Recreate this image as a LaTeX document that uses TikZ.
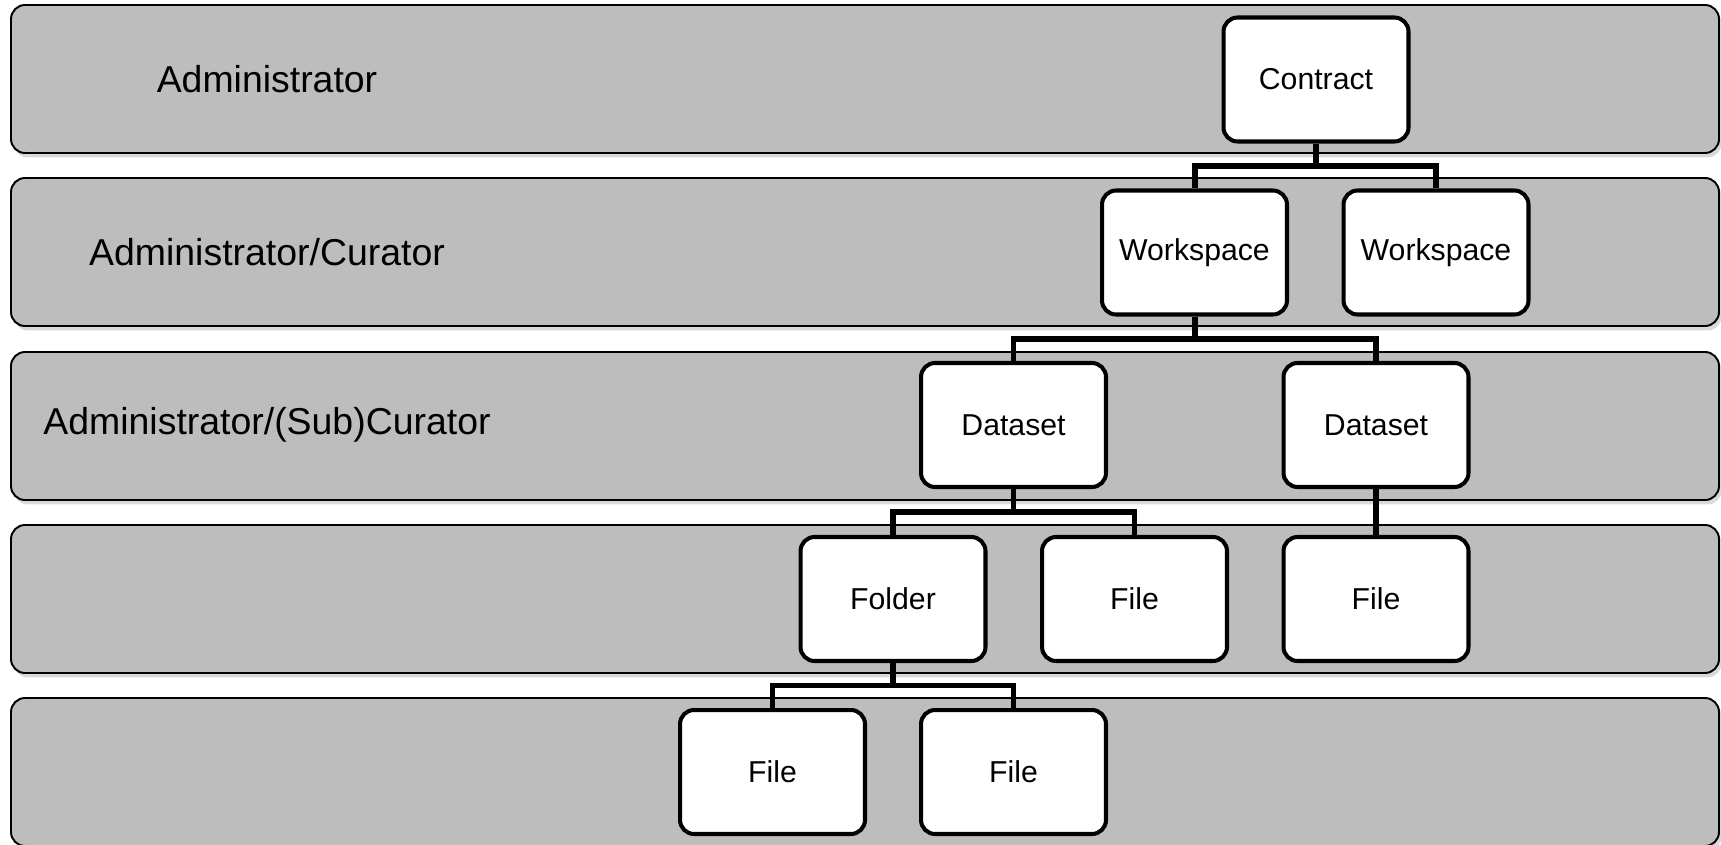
\documentclass[tikz,border=0pt]{standalone}
\usepackage{fontspec}
\setmainfont{Liberation Sans}
\usepackage{tikz}
\usetikzlibrary{positioning,calc,shadows}
\definecolor{bandgray}{HTML}{BDBDBD}
\tikzset{
  band/.style={draw=black,fill=bandgray,line width=1.1pt,rounded corners=8pt,
               drop shadow={shadow xshift=1.5pt,shadow yshift=-2.5pt,opacity=0.3}},
  item/.style={draw=black,fill=white,line width=2.3pt,rounded corners=8pt,
               minimum width=3.70cm,minimum height=2.48cm,align=center,
               font=\fontsize{17.2}{21}\selectfont},
  role/.style={font=\fontsize{21.3}{25}\selectfont},
  link/.style={line width=3.4pt,draw=black}
}

\begin{document}
\begin{tikzpicture}[x=0.02cm,y=-0.02cm]
    \path[use as bounding box] (0,0) rectangle (1721,845);

    % role bands
    \foreach \t in {5,178,352,525,698}
      \draw[band] (11,\t) rectangle (1719,\t+148);

    \node[role] (r1) at (267,79.5) {Administrator};
    \node[role] (r2) at (267,252.5) {Administrator/Curator};
    \node[role] (r3) at (267,425) {Administrator/(Sub)Curator};

    % hierarchy
    \node[item] (con) at (1316,79.5) {Contract};
    \node[item] (ws1) at (1194.5,252.5) {Workspace};
    \node[item] (ws2) at (1436,252.5) {Workspace};
    \node[item] (ds1) at (1013.5,425) {Dataset};
    \node[item] (ds2) at (1376,425) {Dataset};
    \node[item] (fo1) at (893,599) {Folder};
    \node[item] (fi1) at (1134.5,599) {File};
    \node[item] (fi2) at (1376,599) {File};
    \node[item] (fi3) at (772.5,772) {File};
    \node[item] (fi4) at (1013.5,772) {File};

    \draw[link] (con.south) |- ($(con.south)!0.5!(ws1.north)$) -| (ws1.north);
    \draw[link] (con.south) |- ($(con.south)!0.5!(ws2.north)$) -| (ws2.north);
    \draw[link] (ws1.south) |- ($(ws1.south)!0.5!(ds1.north)$) -| (ds1.north);
    \draw[link] (ws1.south) |- ($(ws1.south)!0.5!(ds2.north)$) -| (ds2.north);
    \draw[link] (ds1.south) |- ($(ds1.south)!0.5!(fo1.north)$) -| (fo1.north);
    \draw[link] (ds1.south) |- ($(ds1.south)!0.5!(fi1.north)$) -| (fi1.north);
    \draw[link] (ds2.south) -- (fi2.north);
    \draw[link] (fo1.south) |- ($(fo1.south)!0.5!(fi3.north)$) -| (fi3.north);
    \draw[link] (fo1.south) |- ($(fo1.south)!0.5!(fi4.north)$) -| (fi4.north);
  \end{tikzpicture}
\end{document}
